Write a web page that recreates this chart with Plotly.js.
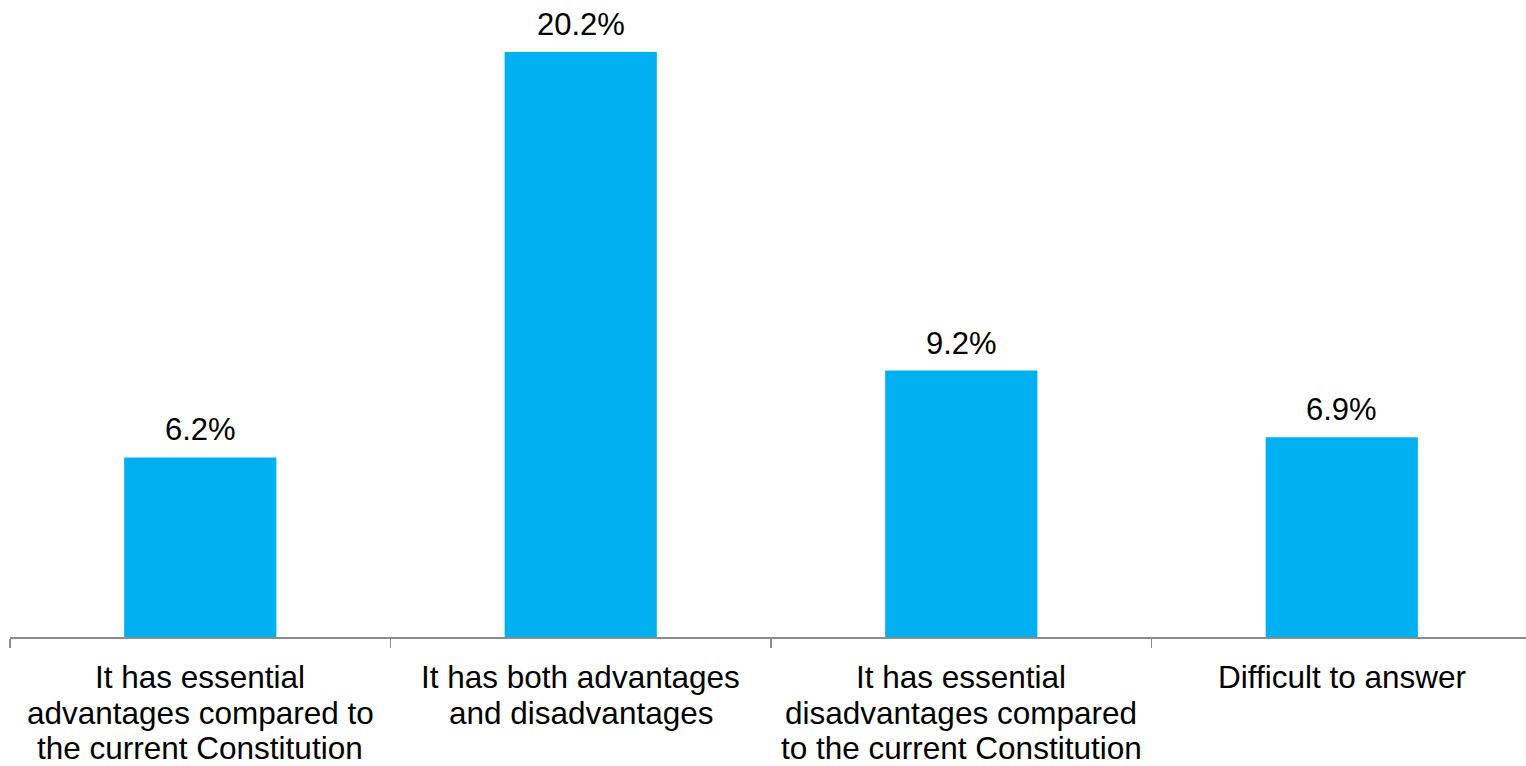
<!DOCTYPE html>
<html>
<head>
<meta charset="utf-8">
<script src="https://cdn.plot.ly/plotly-3.0.1.min.js"></script>
<style>
  html, body { margin: 0; padding: 0; overflow: hidden; background: #ffffff; }
  #chart { width: 1540px; height: 766px; }
</style>
</head>
<body>
<div id="chart"></div>
<script>
const categories = [
  "It has essential<br>advantages compared to<br>the current Constitution",
  "It has both advantages<br>and disadvantages",
  "It has essential<br>disadvantages compared<br>to the current Constitution",
  "Difficult to answer"
];
const values = [6.2, 20.2, 9.2, 6.9];
const valueLabels = ["6.2%", "20.2%", "9.2%", "6.9%"];

const FONT = "Liberation Sans, Arial, sans-serif";

const trace = {
  type: "bar",
  x: categories,
  y: values,
  marker: { color: "#00B0F0" },
  width: 0.4,
  hoverinfo: "none"
};

const annotations = categories.map((c, i) => ({
  x: c,
  y: values[i],
  xref: "x",
  yref: "y",
  text: valueLabels[i],
  showarrow: false,
  yanchor: "bottom",
  yshift: 8,
  font: { family: FONT, size: 31, color: "#000000" }
}));

// category labels, one annotation per line for tighter line spacing
categories.forEach((c) => {
  c.split("<br>").forEach((line, k) => {
    annotations.push({
      x: c,
      y: 0,
      xref: "x",
      yref: "paper",
      text: line,
      showarrow: false,
      yanchor: "middle",
      yshift: -40 - 35.7 * k,
      font: { family: FONT, size: 31.5, color: "#000000" }
    });
  });
});

const layout = {
  width: 1540,
  height: 766,
  margin: { l: 10, r: 8, t: 0, b: 129 },
  paper_bgcolor: "#ffffff",
  plot_bgcolor: "#ffffff",
  showlegend: false,
  font: { family: FONT, size: 30, color: "#000000" },
  xaxis: {
    type: "category",
    tickson: "boundaries",
    ticks: "outside",
    ticklen: 9,
    tickwidth: 1.5,
    tickcolor: "#8c8c8c",
    showline: true,
    linecolor: "#8c8c8c",
    linewidth: 1.5,
    showgrid: false,
    zeroline: false,
    showticklabels: false,
    fixedrange: true
  },
  yaxis: {
    range: [0, 22],
    visible: false,
    showgrid: false,
    zeroline: false,
    fixedrange: true
  },
  annotations: annotations
};

Plotly.newPlot("chart", [trace], layout, { displayModeBar: false, staticPlot: true });
</script>
</body>
</html>
